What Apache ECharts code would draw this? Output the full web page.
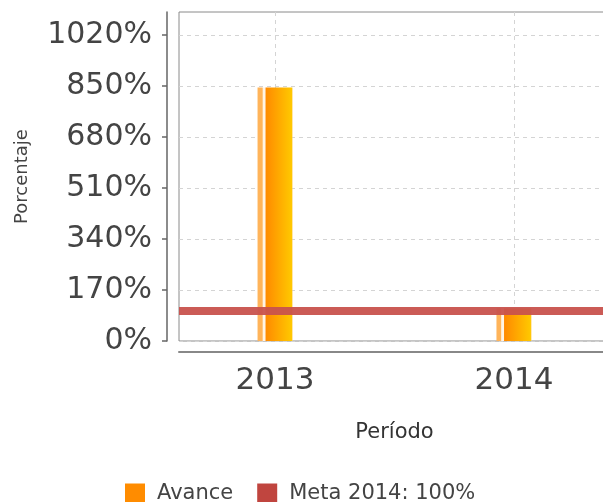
<!DOCTYPE html>
<html>
<head>
<meta charset="utf-8">
<script src="https://cdn.jsdelivr.net/npm/echarts@6/dist/echarts.min.js"></script>
<style>
  html, body { margin: 0; padding: 0; background: #fff; }
  #chart { width: 603px; height: 502px; }
</style>
</head>
<body>
<div id="chart"></div>
<script>
// datos del grafico
var categorias = ['2013', '2014'];
var avance = [845, 108];
var meta = 100;
var yTicks = [0, 170, 340, 510, 680, 850, 1020];

var myChart = echarts.init(document.getElementById('chart'));

// barra con degradado (estilo jfreechart)
var barColor = new echarts.graphic.LinearGradient(0, 0, 1, 0, [
    { offset: 0, color: '#ffb45a' },
    { offset: 0.14, color: '#ffb45a' },
    { offset: 0.145, color: '#fff4e6' },
    { offset: 0.225, color: '#fff4e6' },
    { offset: 0.23, color: '#ff8a00' },
    { offset: 0.97, color: '#ffc800' },
    { offset: 1, color: '#ffd060' }
]);

var option = {
    animation: false,
    grid: {
        left: 179,
        top: 12,
        width: 431,
        bottom: 161,
        outerBoundsMode: 'none',
        show: true,
        borderColor: '#8a8a8a',
        borderWidth: 1
    },
    legend: {
        left: 120,
        top: 478,
        itemWidth: 20,
        itemHeight: 20,
        itemGap: 24,
        textStyle: {
            fontFamily: 'DejaVu Sans',
            fontSize: 21,
            color: '#444',
            padding: [0, 0, 0, 7]
        },
        data: [
            { name: 'Avance', icon: 'rect', itemStyle: { color: '#ff8c00' } },
            { name: 'Meta 2014: 100%', icon: 'rect', itemStyle: { color: '#c0453f' } }
        ]
    },
    xAxis: {
        type: 'value',
        min: -0.402,
        max: 1.402,
        offset: 11,
        name: 'Período',
        nameLocation: 'middle',
        nameGap: 70,
        nameTextStyle: {
            fontFamily: 'DejaVu Sans',
            fontSize: 21,
            color: '#333'
        },
        axisLine: { show: true, onZero: false, lineStyle: { color: '#888', width: 2 } },
        axisTick: { show: false, customValues: [0, 1] },
        axisLabel: {
            customValues: [0, 1],
            margin: 13,
            fontFamily: 'DejaVu Sans',
            fontSize: 31,
            color: '#444',
            formatter: function (v) { return categorias[Math.round(v)]; }
        },
        splitLine: {
            show: true,
            lineStyle: { color: '#d4d4d4', width: 1, type: [4, 4] }
        }
    },
    yAxis: {
        type: 'value',
        min: 0,
        max: 1097,
        offset: 12,
        name: 'Porcentaje',
        nameLocation: 'middle',
        nameGap: 136,
        nameTextStyle: {
            fontFamily: 'DejaVu Sans',
            fontSize: 18,
            color: '#444'
        },
        axisLine: { show: true, onZero: false, lineStyle: { color: '#666', width: 1.5 } },
        axisTick: {
            show: true,
            length: 5,
            customValues: yTicks,
            lineStyle: { color: '#666', width: 1.5 }
        },
        axisLabel: {
            customValues: yTicks,
            margin: 15,
            fontFamily: 'DejaVu Sans',
            fontSize: 30,
            color: '#444',
            formatter: function (v) { return v + '%'; }
        },
        splitLine: {
            show: true,
            lineStyle: { color: '#d4d4d4', width: 1, type: [4, 4] }
        }
    },
    series: [
        {
            name: 'Avance',
            type: 'bar',
            barWidth: 35,
            itemStyle: { color: barColor },
            data: categorias.map(function (c, i) { return [i, avance[i]]; })
        },
        {
            name: 'Meta 2014: 100%',
            type: 'line',
            color: '#c0453f',
            data: [],
            markLine: {
                silent: true,
                symbol: 'none',
                label: { show: false },
                lineStyle: { color: '#c8524d', width: 8, type: 'solid', opacity: 0.95 },
                data: [{ yAxis: meta }]
            }
        }
    ]
};

myChart.setOption(option);
</script>
</body>
</html>
